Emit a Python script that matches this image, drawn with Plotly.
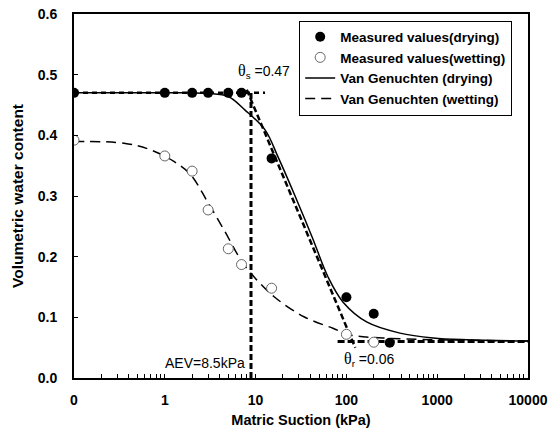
import plotly.graph_objects as go

# ---- data ----
dry_x = [0.1, 1, 2, 3, 5, 7, 15, 100, 200, 300]
dry_y = [0.47, 0.47, 0.47, 0.47, 0.47, 0.47, 0.362, 0.133, 0.106, 0.058]

wet_x = [0.1, 1, 2, 3, 5, 7, 15, 100, 200]
wet_y = [0.392, 0.366, 0.341, 0.277, 0.213, 0.187, 0.148, 0.072, 0.059]

vgd_x = [0.1, 0.5, 1, 2, 3, 5, 7.6, 12.7, 17.7, 27.2, 42, 63, 92, 169, 389, 900, 2130, 10000]
vgd_y = [0.47, 0.47, 0.47, 0.47, 0.469, 0.464, 0.442, 0.409, 0.364, 0.30, 0.232, 0.166, 0.125, 0.092, 0.074, 0.066, 0.063, 0.061]

vgw_x = [0.1, 0.355, 0.7, 1.26, 1.93, 2.94, 4.49, 6.85, 8.83, 16, 34.1, 71, 110, 251, 1000, 10000]
vgw_y = [0.39, 0.387, 0.376, 0.357, 0.335, 0.291, 0.244, 0.195, 0.173, 0.134, 0.101, 0.082, 0.071, 0.066, 0.063, 0.061]

aev_x = [8.9, 8.9]
aev_y = [0.0, 0.47]
ths_x = [0.1, 12.7]
ths_y = [0.47, 0.47]
tan_x = [8, 125]
tan_y = [0.475, 0.05]
thr_x = [80, 10000]
thr_y = [0.06, 0.06]

x_tickvals = [0.1, 1, 10, 100, 1000, 10000]
x_ticktext = ["0", "1", "10", "100", "1000", "10000"]
y_tickvals = [0.0, 0.1, 0.2, 0.3, 0.4, 0.5, 0.6]

FONT = "Liberation Sans, Arial, sans-serif"

fig = go.Figure()

# reference construction lines
fig.add_trace(go.Scatter(x=aev_x, y=aev_y, mode="lines", showlegend=False,
                         line=dict(color="black", width=3, dash="6px,3px")))
fig.add_trace(go.Scatter(x=ths_x, y=ths_y, mode="lines", showlegend=False,
                         line=dict(color="black", width=2.5, dash="5px,4px")))
fig.add_trace(go.Scatter(x=tan_x, y=tan_y, mode="lines", showlegend=False,
                         line=dict(color="black", width=2.5, dash="6px,3px")))
fig.add_trace(go.Scatter(x=thr_x, y=thr_y, mode="lines", showlegend=False,
                         line=dict(color="black", width=3, dash="7px,3px")))

# fitted curves
fig.add_trace(go.Scatter(x=vgd_x, y=vgd_y, mode="lines", name="Van Genuchten (drying)",
                         legendrank=3, line=dict(color="black", width=1.5, shape="spline", smoothing=1)))
fig.add_trace(go.Scatter(x=vgw_x, y=vgw_y, mode="lines", name="Van Genuchten (wetting)",
                         legendrank=4, line=dict(color="black", width=1.5, dash="10px,6px",
                                                 shape="spline", smoothing=1)))

# measured values
fig.add_trace(go.Scatter(x=dry_x, y=dry_y, mode="markers", name="Measured values(drying)",
                         legendrank=1, marker=dict(symbol="circle", size=10, color="black")))
fig.add_trace(go.Scatter(x=wet_x, y=wet_y, mode="markers", name="Measured values(wetting)",
                         legendrank=2, marker=dict(symbol="circle", size=10, color="white",
                                                   line=dict(color="#666666", width=1))))

fig.update_layout(
    width=556, height=432,
    margin=dict(l=74, r=28, t=14, b=54, autoexpand=False),
    plot_bgcolor="white", paper_bgcolor="white",
    font=dict(family=FONT, size=13, color="black"),
    legend=dict(x=0.496, y=0.982, xanchor="left", yanchor="top",
                bgcolor="white", bordercolor="black", borderwidth=1,
                font=dict(family=FONT, size=13.5, weight="bold"),
                tracegroupgap=0),
)

fig.update_xaxes(type="log", range=[-1, 4], automargin=False,
                 tickvals=x_tickvals, ticktext=x_ticktext,
                 ticks="inside", ticklen=4, tickcolor="black", ticklabelstandoff=8,
                 minor=dict(ticks="inside", ticklen=4, tickcolor="black",
                            tickvals=[m * 10 ** e for e in range(-1, 4) for m in range(2, 10)]),
                 showline=True, linecolor="black", linewidth=2, mirror=True,
                 showgrid=False, zeroline=False,
                 tickfont=dict(family=FONT, size=14, weight="bold"),
                 title=dict(text="Matric Suction (kPa)", standoff=8,
                            font=dict(family=FONT, size=14.5, weight="bold")))

fig.update_yaxes(range=[0, 0.6], tickvals=y_tickvals, tickformat=".1f", automargin=False,
                 ticks="inside", ticklen=4, tickcolor="black", ticklabelstandoff=12,
                 showline=True, linecolor="black", linewidth=2, mirror=True,
                 showgrid=False, zeroline=False,
                 tickfont=dict(family=FONT, size=14, weight="bold"),
                 title=dict(text="Volumetric water content", standoff=10,
                            font=dict(family=FONT, size=15.5, weight="bold")))

TH = '<span style="font-family:Liberation Serif, Times New Roman, serif;font-size:16px">θ</span>'
fig.add_annotation(x=1.092, y=0.505, xref="x", yref="y", showarrow=False,
                   text=TH + "<sub>s</sub> =0.47", font=dict(family=FONT, size=14))
fig.add_annotation(x=2.249, y=0.031, xref="x", yref="y", showarrow=False,
                   text=TH + "<sub>r</sub> =0.06", font=dict(family=FONT, size=14))
fig.add_annotation(x=0.905, y=0.025, xref="x", yref="y", showarrow=False, xanchor="right",
                   text="AEV=8.5kPa", font=dict(family=FONT, size=14))

fig.write_html("out.html")
